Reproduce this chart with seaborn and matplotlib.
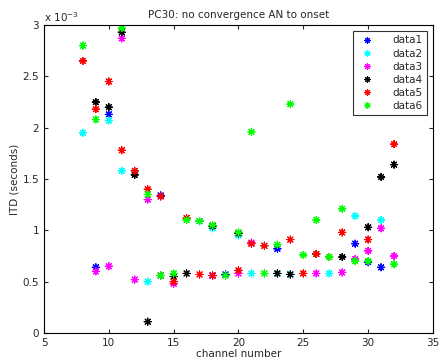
import numpy as np
import pandas as pd
import seaborn as sns
import matplotlib
matplotlib.use("Agg")
import matplotlib.pyplot as plt
from matplotlib.ticker import FuncFormatter, MultipleLocator

# Values in units of 1e-3 seconds
d1_x = [9, 10, 14, 17, 18, 19, 23, 29, 30, 31]
d1_y = [0.64, 2.13, 1.34, 1.09, 0.56, 0.57, 0.82, 0.87, 0.69, 0.64]

d2_x = [8, 10, 11, 12, 13, 18, 20, 21, 22, 23, 24, 27, 29, 31]
d2_y = [1.95, 2.07, 1.58, 1.57, 0.50, 1.02, 0.95, 0.58, 0.85, 0.58, 0.57, 0.58, 1.14, 1.10]

d3_x = [9, 10, 11, 12, 13, 15, 18, 20, 21, 26, 28, 29, 30, 31, 32]
d3_y = [0.60, 0.65, 2.87, 0.52, 1.30, 0.48, 0.56, 0.58, 0.88, 0.58, 0.59, 0.72, 0.80, 1.02, 0.75]

d4_x = [9, 10, 11, 12, 13, 14, 15, 16, 18, 20, 23, 24, 26, 28, 30, 31, 32]
d4_y = [2.25, 2.20, 2.93, 1.54, 0.11, 0.56, 0.55, 0.58, 1.04, 0.97, 0.58, 0.57, 0.77, 0.74, 1.03, 1.52, 1.64]

d5_x = [8, 9, 10, 11, 12, 13, 14, 15, 16, 17, 18, 20, 21, 22, 24, 25, 26, 27, 28, 30, 32]
d5_y = [2.65, 2.18, 2.45, 1.78, 1.58, 1.40, 1.33, 0.50, 1.12, 0.57, 0.56, 0.61, 0.87, 0.85, 0.91, 0.58, 0.77, 0.74, 0.98, 0.91, 1.84]

d6_x = [8, 9, 11, 13, 14, 15, 16, 17, 18, 19, 20, 21, 22, 23, 24, 25, 26, 27, 28, 29, 30, 32]
d6_y = [2.80, 2.08, 2.97, 1.35, 0.56, 0.58, 1.10, 1.09, 1.05, 0.56, 0.98, 1.96, 0.58, 0.86, 2.23, 0.76, 1.10, 0.74, 1.21, 0.70, 0.70, 0.67]

series_names = ["data1", "data2", "data3", "data4", "data5", "data6"]
series_x = [d1_x, d2_x, d3_x, d4_x, d5_x, d6_x]
series_y = [d1_y, d2_y, d3_y, d4_y, d5_y, d6_y]
colors = ["#0000ff", "#00ffff", "#ff00ff", "#000000", "#ff0000", "#00ff00"]

rows = []
for name, xs, ys in zip(series_names, series_x, series_y):
    for x, y in zip(xs, ys):
        rows.append({"channel": x, "itd": y * 1e-3, "series": name})
df = pd.DataFrame(rows)

sns.set_style("ticks")
plt.rcParams["font.family"] = ["DejaVu Sans"]

fig = plt.figure(figsize=(4.4, 3.61), dpi=100)
ax = fig.add_axes([0.1, 0.0776, 0.884, 0.853])

sns.scatterplot(data=df, x="channel", y="itd", hue="series",
                palette=dict(zip(series_names, colors)),
                marker=(8, 2, 0), s=26, linewidth=0.8, ax=ax, legend=True)

ax.set_xlim(5, 35)
ax.set_ylim(0, 3e-3)
ax.xaxis.set_major_locator(MultipleLocator(5))
ax.yaxis.set_major_locator(MultipleLocator(0.5e-3))
ax.yaxis.set_major_formatter(FuncFormatter(lambda v, p: f"{v*1e3:g}"))
ax.tick_params(direction="in", top=True, right=True, labelsize=7.5, length=3, width=0.8)
for sp in ax.spines.values():
    sp.set_linewidth(0.8)
    sp.set_color("black")

ax.set_xlabel("channel number", fontsize=7.5, labelpad=1)
ax.set_ylabel("ITD (seconds)", fontsize=7.5, labelpad=2)
ax.set_title("PC30: no convergence AN to onset", fontsize=7.5, pad=5)
ax.text(0.0, 1.005, r"x 10$^{-3}$", transform=ax.transAxes, fontsize=7.5,
        ha="left", va="bottom")

leg = ax.legend(loc="upper right", fontsize=7.5, frameon=True, fancybox=False,
                borderaxespad=0.6, handletextpad=1.4, labelspacing=0.3,
                borderpad=0.4, markerscale=0.9)
leg.get_frame().set_edgecolor("black")
leg.get_frame().set_linewidth(0.8)

fig.savefig("out.png", dpi=100)
